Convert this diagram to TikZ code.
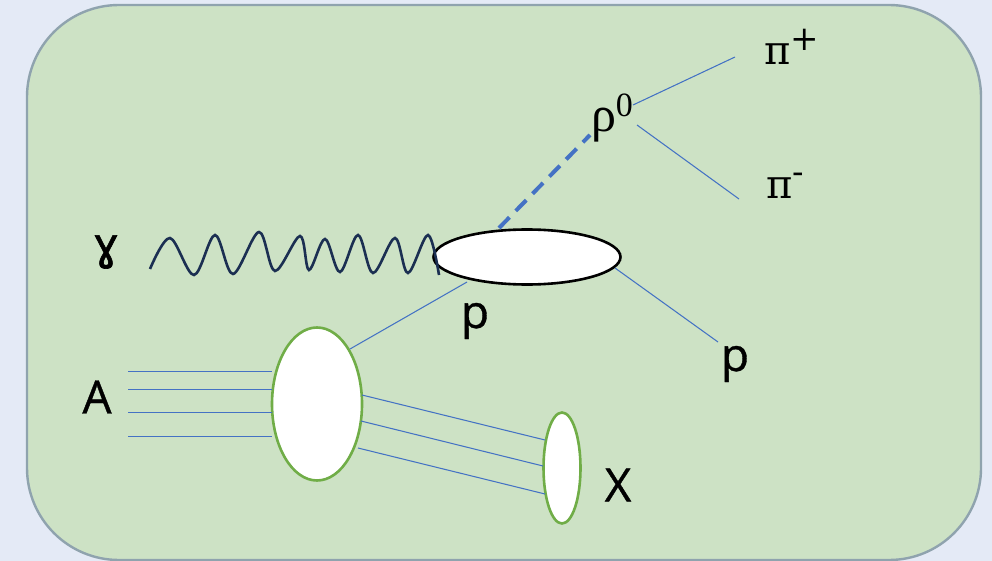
\documentclass[tikz,border=0pt]{standalone}
\usepackage{fontspec}
\setmainfont{Open Sans}
\newfontfamily\labelsans[FakeBold=0.8]{Open Sans}
\newfontfamily\greekserif{DejaVu Serif}
\newfontfamily\rhoserif{Liberation Serif}
\newfontfamily\gammasans[FakeBold=1.5]{DejaVu Sans}
\newcommand{\upmark}[1]{\raisebox{14.5pt}{\fontsize{34}{34}\selectfont #1}}
\usepackage{tikz}
\usetikzlibrary{positioning,shapes.geometric}
\definecolor{pagebg}{HTML}{E4EAF6}
\definecolor{panelfill}{HTML}{CDE2C5}
\definecolor{paneledge}{HTML}{8FA3AE}
\definecolor{linkblue}{HTML}{4472C4}
\definecolor{wavenavy}{HTML}{1B2F52}
\definecolor{blobgreen}{HTML}{70AD47}
\begin{document}
\begin{tikzpicture}[
  x=1pt, y=-1pt,
  lbl/.style={inner sep=0pt, text=black, font=\fontsize{46}{46}\selectfont\labelsans},
  gr/.style={inner sep=0pt, text=black, font=\fontsize{40}{40}\selectfont\greekserif},
  blob/.style={ellipse, draw=blobgreen, line width=2.6pt, fill=white, inner sep=0pt},
  pf/.style={linkblue, line width=1.05pt}
]
\useasboundingbox (0,0) rectangle (992,561);
\fill[pagebg] (0,0) rectangle (992,561);
\draw[paneledge, fill=panelfill, line width=2.4pt, rounded corners=92pt] (27,5) rectangle (981,560);
% vertices
\node[ellipse, draw=black, line width=2.6pt, fill=white, inner sep=0pt, minimum width=187pt, minimum height=55pt] (target) at (527,257) {};
\node[blob, minimum width=90pt, minimum height=153pt] (nucleus) at (317,404) {};
\node[blob, minimum width=37pt, minimum height=111pt] (remnant) at (562,468) {};
% labels
\node[lbl, font=\fontsize{44}{44}\selectfont\gammasans] (gamma) at (106,252) {ɣ};
\node[lbl] (beamA) at (97,397) {A};
\node[lbl] (pin) at (475,321) {p};
\node[lbl] (pout) at (735,364) {p};
\node[lbl] (remX) at (618,485) {X};
\node[gr, font=\fontsize{50}{50}\selectfont\rhoserif] (rho) at (612,118) {ρ\upmark{0}};
\node[gr] (piplus) at (792,47) {π\upmark{+}};
\node[gr] (piminus) at (785,186) {π\upmark{-}};
% free ends
\coordinate (rhoend) at (590,135);  \coordinate (rhostart) at (499,228);
\coordinate (pa) at (633,105);      \coordinate (pb) at (735,57);
\coordinate (pc) at (637,125);      \coordinate (pd) at (739,199);
\coordinate (pe) at (467,282);      \coordinate (pf1) at (350,349);
\coordinate (pg) at (615,268);      \coordinate (ph) at (718,342);
\coordinate (a1) at (128,371.5); \coordinate (a2) at (272,371.5);
\coordinate (b1) at (128,389.5); \coordinate (b2) at (272,389.5);
\coordinate (c1) at (128,412.5); \coordinate (c2) at (272,412.5);
\coordinate (d1) at (128,436.5); \coordinate (d2) at (272,436.5);
\coordinate (e1) at (362,395); \coordinate (e2) at (545,440);
\coordinate (f1) at (361,421); \coordinate (f2) at (543,466);
\coordinate (g1) at (358,448); \coordinate (g2) at (545,494);
\draw[linkblue, line width=4pt, dash pattern=on 15pt off 9pt] (rhostart) -- (rhoend);
\draw[pf] (pa)--(pb); \draw[pf] (pc)--(pd);
\draw[pf] (pe)--(pf1); \draw[pf] (pg)--(ph);
\draw[pf] (a1)--(a2); \draw[pf] (b1)--(b2); \draw[pf] (c1)--(c2); \draw[pf] (d1)--(d2);
\draw[pf] (e1)--(e2); \draw[pf] (f1)--(f2); \draw[pf] (g1)--(g2);
\draw[wavenavy, line width=2.6pt] plot[smooth, tension=0.55] coordinates {(150,269) (170,238) (194,275) (215,235) (233,274) (259,232) (275,271) (300,236) (309,270) (325,239) (340,272) (358,235) (373,273) (395,238) (408,273) (428,235) (439,275)};
\end{tikzpicture}
\end{document}
